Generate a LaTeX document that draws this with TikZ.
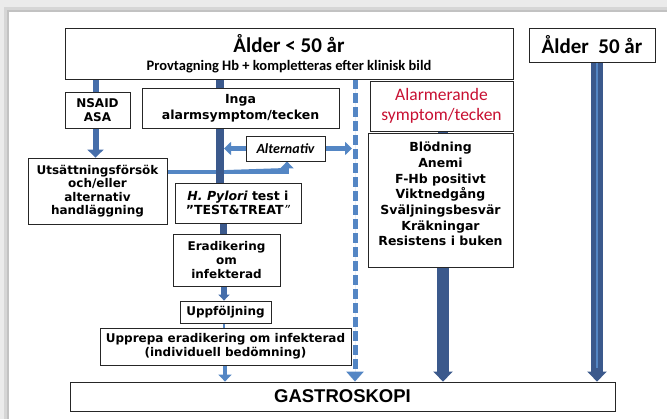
\documentclass[tikz,border=0pt]{standalone}
\usepackage{fontspec}
\setmainfont{DejaVu Sans}
\newfontfamily\cfont{Carlito}
\newfontfamily\afont{Liberation Sans}
\usetikzlibrary{arrows.meta,backgrounds}
\definecolor{bardark}{RGB}{59,89,140}
\definecolor{barmid}{RGB}{70,110,170}
\definecolor{barlight}{RGB}{84,134,196}
\definecolor{alarmred}{RGB}{200,16,50}

\begin{document}
\begin{tikzpicture}[x=1pt,y=-1pt,
  box/.style={draw=black!85,line width=0.8pt,fill=white,inner sep=1pt,align=center,
    font=\fontsize{12.5}{14.5}\selectfont\bfseries},
  darkbar/.style={draw=bardark,fill=bardark,line width=8pt},
  midbar/.style={draw=barmid,fill=barmid,line width=6pt},
  lightbar/.style={draw=barlight,fill=barlight,line width=4.5pt},
  bighead/.style={-{Triangle[width=19pt,length=10pt]}},
  smallhead/.style={-{Triangle[width=13pt,length=7pt]}}]
\def\xnsaid{95.5}
\def\xmain{220}
\def\xdash{355}
\def\xalarm{443}
\def\xold{597}
\useasboundingbox (0,0) rectangle (667,419);

\node[box,minimum width=448,minimum height=51,font=\cfont\bfseries\fontsize{14.5}{17.5}\selectfont] (top) at (289,53.5)
  {{\fontsize{21}{23}\selectfont Ålder < 50 år}\\Provtagning Hb + kompletteras efter klinisk bild};
\node[box,minimum width=126,minimum height=34,font=\cfont\bfseries\fontsize{21}{23}\selectfont] (old) at (592,45) {Ålder\ \ 50 år};
\node[box,minimum width=65,minimum height=36,font=\fontsize{12}{14}\selectfont\bfseries] (nsaid) at (97.5,110) {NSAID\\ASA};
\node[box,minimum width=197,minimum height=40,font=\fontsize{12.5}{16}\selectfont\bfseries] (inga) at (240.5,108) {Inga\\alarmsymptom/tecken};
\node[box,minimum width=143,minimum height=50,text=alarmred,font=\cfont\fontsize{17.5}{20}\selectfont] (alarm) at (441.5,106) {Alarmerande\\symptom/tecken};
\node[box,minimum width=145,minimum height=134] (list) at (440.5,200) {};
\node[align=center,inner sep=0pt,font=\fontsize{12.5}{15.7}\selectfont\bfseries] (listtxt) at (440.5,194)
  {Blödning\\Anemi\\F-Hb positivt\\Viktnedgång\\Sväljningsbesvär\\Kräkningar\\Resistens i buken};
\node[box,minimum width=79,minimum height=25,font=\cfont\bfseries\itshape\fontsize{14}{16}\selectfont] (alt) at (285.5,148.5) {Alternativ};
\node[box,minimum width=139,minimum height=66,font=\fontsize{12}{13.5}\selectfont\bfseries] (utsatt) at (97.5,191)
  {Utsättningsförsök\\och/eller\\alternativ\\handläggning};
\node[box,minimum width=126,minimum height=40] (pylori) at (238,203)
  {{\itshape H. Pylori} test i\\”TEST\&TREAT{\mdseries\itshape ”}};
\node[box,minimum width=107,minimum height=52,font=\fontsize{12}{14}\selectfont\bfseries] (erad) at (226.5,260) {Eradikering\\om\\infekterad};
\node[box,minimum width=91,minimum height=22,font=\fontsize{12}{14}\selectfont\bfseries] (uppf) at (225.5,312) {Uppföljning};
\node[box,minimum width=251,minimum height=37,font=\fontsize{12}{14}\selectfont\bfseries] (upprepa) at (225.5,346.5)
  {Upprepa eradikering om infekterad\\(individuell bedömning)};
\node[box,minimum width=545,minimum height=29,font=\afont\bfseries\fontsize{18.5}{20}\selectfont] (gastro) at (342.5,396.5) {GASTROSKOPI};

\begin{pgfonlayer}{background}
\fill[black!8] (0,0) rectangle (667,419);
\fill[black!16] (4,7) rectangle (667,419);
\fill[black!24] (7,10) rectangle (667,419);
\fill[white] (9,12) rectangle (667,419);

\draw[midbar] (top.south -| \xnsaid,0) -- (nsaid.north -| \xnsaid,0);
\draw[midbar,-{Triangle[width=16pt,length=8pt]}] (nsaid.south -| \xnsaid,0) -- (utsatt.north -| \xnsaid,0);
\draw[lightbar,smallhead] (utsatt.east |- 0,172) -| (alt.south -| 287,0);
\draw[darkbar] (top.south -| \xmain,0) -- (pylori.north -| \xmain,0);
\draw[lightbar,smallhead] (alt.west) -- (alt.west -| 224,0);
\draw[lightbar,smallhead] (alt.east) -- (alt.east -| 352,0);
\draw[lightbar,line width=5pt,dash pattern=on 10pt off 4pt,-{Triangle[width=17pt,length=10pt]}]
  (top.south -| \xdash,0) -- (gastro.north -| \xdash,0);
\draw[darkbar,line width=7pt] (pylori.south -| 223,0) -- (erad.north -| 223,0);
\draw[midbar,-{Triangle[width=11pt,length=6pt]}] (erad.south -| 224,0) -- (uppf.north -| 224,0);
\draw[barlight,line width=2pt] (uppf.south -| 224,0) -- (upprepa.north -| 224,0);
\draw[lightbar,line width=3.5pt,smallhead] (upprepa.south -| 225,0) -- (gastro.north -| 225,0);
\draw[darkbar,line width=10pt] (alarm.south -| \xalarm,0) -- (list.north -| \xalarm,0);
\draw[darkbar,line width=12pt,bighead] (list.south -| \xalarm,0) -- (gastro.north -| \xalarm,0);
\draw[darkbar,line width=12pt,bighead] (old.south -| \xold,0) -- (gastro.north -| \xold,0);
\draw[barlight,line width=2.5pt] (old.south -| \xold,0) -- ([yshift=14pt]gastro.north -| \xold,0);
\end{pgfonlayer}
\end{tikzpicture}
\end{document}
